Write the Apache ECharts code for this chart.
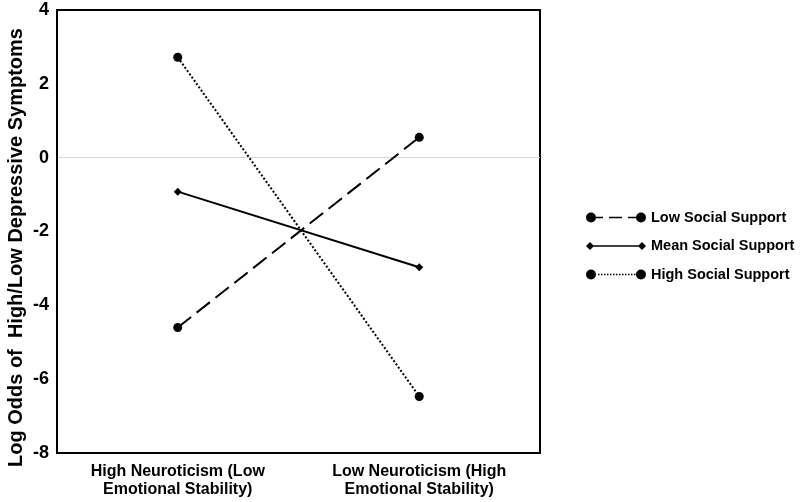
<!DOCTYPE html>
<html>
<head>
<meta charset="utf-8">
<script src="https://cdn.jsdelivr.net/npm/echarts@6/dist/echarts.min.js"></script>
<style>
  html, body { margin: 0; padding: 0; background: #fff; }
  #main { width: 800px; height: 502px; }
</style>
</head>
<body>
<div id="main"></div>
<script>
const categories = ["High Neuroticism (Low\nEmotional Stability)", "Low Neuroticism (High\nEmotional Stability)"];
const lowSupport = [-4.6, 0.55];
const meanSupport = [-0.92, -2.97];
const highSupport = [2.72, -6.47];
const yTicks = [-8, 4, 2];

const chart = echarts.init(document.getElementById("main"));

const font = "Arial, 'Liberation Sans', sans-serif";

// legend icons: marker - line - marker, like the original
const circL = "M0,5a5,5 0 1,0 10,0a5,5 0 1,0 -10,0Z";
const circR = "M50,5a5,5 0 1,0 10,0a5,5 0 1,0 -10,0Z";
const iconLow = "path://" + circL + "M10,4.2h7v1.6h-7ZM23,4.2h13v1.6h-13ZM42,4.2h8v1.6h-8Z" + circR;
const iconMean = "path://M0,5L4,1L8,5L4,9ZM52,5L56,1L60,5L56,9ZM6,4.2h48v1.6h-48Z" + "M0.1,0L0,0.1L0,0Z M0,10L0.1,9.9L0,9.9Z";
let dots = "";
for (let x = 12; x < 49; x += 3) dots += "M" + x + ",4.3h1.5v1.4h-1.5Z";
const iconHigh = "path://" + circL + dots + circR;

const option = {
  animation: false,
  backgroundColor: "#fff",
  grid: {
    left: 57, right: 260, top: 10, bottom: 49,
    outerBoundsMode: "none",
    show: true, borderColor: "#000", borderWidth: 2, backgroundColor: "transparent"
  },
  legend: {
    orient: "vertical",
    left: 581,
    top: 205,
    itemGap: 13.5,
    itemWidth: 60,
    itemHeight: 10,
    textStyle: { fontFamily: font, fontWeight: "bold", fontSize: 14.5, color: "#000" },
    data: [
      { name: "Low Social Support", icon: iconLow },
      { name: "Mean Social Support", icon: iconMean },
      { name: "High Social Support", icon: iconHigh }
    ]
  },
  xAxis: {
    type: "category",
    data: categories,
    boundaryGap: true,
    axisLine: { show: true, onZero: false, lineStyle: { color: "#000", width: 2 } },
    axisTick: { show: false },
    axisLabel: {
      fontFamily: font, fontWeight: "bold", fontSize: 16, color: "#000",
      margin: 10, lineHeight: 18
    }
  },
  yAxis: {
    type: "value",
    min: yTicks[0],
    max: yTicks[1],
    interval: yTicks[2],
    name: "Log Odds of  High/Low Depressive Symptoms",
    nameLocation: "middle",
    nameGap: 31,
    nameMoveOverlap: false,
    nameTextStyle: { fontFamily: font, fontWeight: "bold", fontSize: 20, color: "#000", padding: [0, 32, 0, 0] },
    axisLine: { show: true, lineStyle: { color: "#000", width: 2 } },
    axisTick: { show: false },
    splitLine: {
      show: true,
      lineStyle: {
        width: 1,
        color: ["transparent", "transparent", "transparent", "transparent", "#d4d4d4", "transparent", "transparent"]
      }
    },
    axisLabel: { fontFamily: font, fontWeight: "bold", fontSize: 18, color: "#000", margin: 8 }
  },
  series: [
    {
      name: "Low Social Support",
      type: "line",
      data: lowSupport,
      symbol: "circle",
      symbolSize: 9,
      itemStyle: { color: "#000" },
      lineStyle: { color: "#000", width: 2, type: [17, 7] },
      z: 3
    },
    {
      name: "Mean Social Support",
      type: "line",
      data: meanSupport,
      symbol: "diamond",
      symbolSize: 8,
      itemStyle: { color: "#000" },
      lineStyle: { color: "#000", width: 2, type: "solid" },
      z: 3
    },
    {
      name: "High Social Support",
      type: "line",
      data: highSupport,
      symbol: "circle",
      symbolSize: 9,
      itemStyle: { color: "#000" },
      lineStyle: { color: "#000", width: 2, type: [2, 2] },
      z: 3
    }
  ]
};

chart.setOption(option);
</script>
</body>
</html>
